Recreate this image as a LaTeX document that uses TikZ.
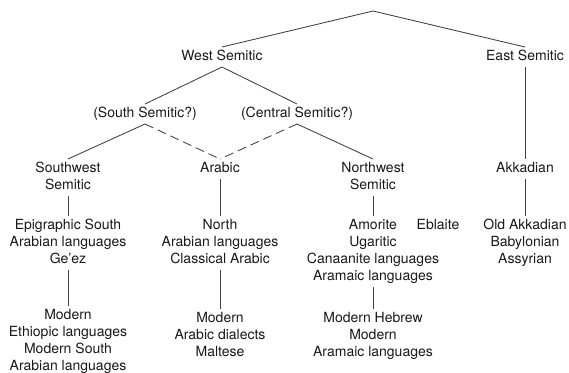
\documentclass[tikz,border=0pt]{standalone}
\usepackage{fontspec}
\setmainfont{TeX Gyre Heros}
\begin{document}
\begin{tikzpicture}[x=1bp,y=-1bp,
  lang/.style={anchor=north,align=center,inner sep=0pt,outer sep=1.5bp,
    font=\fontsize{14bp}{17bp}\selectfont,text=black!90},
  link/.style={draw=black!75,line width=0.85bp},
  guess/.style={link,dash pattern=on 9bp off 5bp}]
\useasboundingbox[fill=white] (0,0) rectangle (569,372);
\coordinate (root) at (373,11);
\node[lang] (ws) at (222,47) {\strut West Semitic};
\node[lang] (es) at (525,47) {\strut East Semitic};
\node[lang] (ss) at (145,104) {\strut (South Semitic?)};
\node[lang] (cs) at (297,104) {\strut (Central Semitic?)};
\node[lang] (sw) at (68,159) {\strut Southwest\\\strut Semitic};
\node[lang] (ar) at (220,159) {\strut Arabic};
\node[lang] (nw) at (373,159) {\strut Northwest\\\strut Semitic};
\node[lang] (ak) at (525,159) {\strut Akkadian};
\node[lang] (epi) at (68,216) {\strut Epigraphic South\\\strut Arabian languages\\\strut Ge'ez};
\node[lang] (na) at (220,216) {\strut North\\\strut Arabian languages\\\strut Classical Arabic};
\node[lang] (am) at (373,216) {\strut Amorite\\\strut Ugaritic\\\strut Canaanite languages\\\strut Aramaic languages};
\node[lang] (eb) at (438,216) {\strut Eblaite};
\node[lang] (oak) at (525,216) {\strut Old Akkadian\\\strut Babylonian\\\strut Assyrian};
\node[lang] (me) at (68,306) {\strut Modern\\\strut Ethiopic languages\\\strut Modern South\\\strut Arabian languages};
\node[lang] (ma) at (220,309) {\strut Modern\\\strut Arabic dialects\\\strut Maltese};
\node[lang] (mh) at (373,309) {\strut Modern Hebrew\\\strut Modern\\\strut Aramaic languages};
\draw[link] (ws.north) -- (root) -- (es.north);
\draw[link] (ss.north) -- (ws.south) -- (cs.north);
\draw[link] (es.south) -- (ak.north);
\draw[link] (ss.south) -- (sw.north);
\draw[guess] (ss.south) -- (ar.north);
\draw[guess] (cs.south) -- (ar.north);
\draw[link] (cs.south) -- (nw.north);
\draw[link] (sw.south) -- (epi.north);
\draw[link] (ar.south) -- (na.north);
\draw[link] (nw.south) -- (am.north);
\draw[link] (ak.south) -- (oak.north);
\draw[link] (epi.south) -- (me.north);
\draw[link] (na.south) -- (ma.north);
\draw[link] (am.south) -- (mh.north);
\end{tikzpicture}
\end{document}
